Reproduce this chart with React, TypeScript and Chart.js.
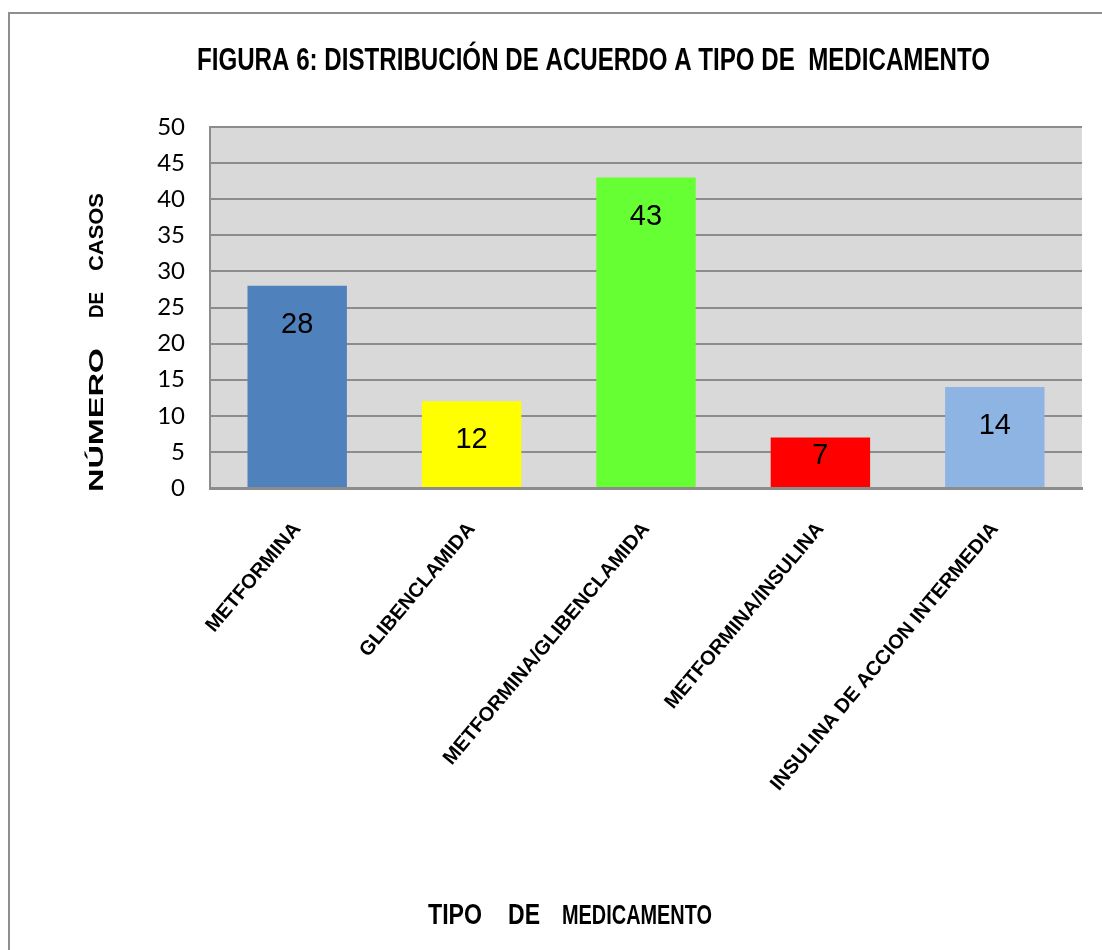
import React, { useEffect, useRef } from "react";
import { Chart, registerables } from "chart.js";

Chart.register(...registerables);

// ---- data ----
const categories = [
  "METFORMINA",
  "GLIBENCLAMIDA",
  "METFORMINA/GLIBENCLAMIDA",
  "METFORMINA/INSULINA",
  "INSULINA DE ACCION INTERMEDIA",
];
const casos = [28, 12, 43, 7, 14];
const barColors = ["#4f81bd", "#ffff00", "#66ff33", "#ff0000", "#8eb4e3"];
const yMin = 0;
const yMax = 50;
const yStep = 5;
const chartTitle = "FIGURA 6: DISTRIBUCIÓN DE ACUERDO A TIPO DE  MEDICAMENTO";
const yTitleWords = ["NÚMERO", "DE", "CASOS"];
const xTitleWords = ["TIPO", "DE", "MEDICAMENTO"];

// draw text so it spans a given width (horizontal scaling)
function drawFit(ctx: CanvasRenderingContext2D, text: string, x: number, y: number, w: number, font: string) {
  ctx.save();
  ctx.font = font;
  ctx.textAlign = "left";
  ctx.textBaseline = "alphabetic";
  const m = ctx.measureText(text).width || 1;
  ctx.translate(x, y);
  ctx.scale(w / m, 1);
  ctx.fillText(text, 0, 0);
  ctx.restore();
}

const decorPlugin = {
  id: "decor",
  beforeDraw(chart: any) {
    const { ctx, chartArea: a } = chart;
    ctx.save();
    ctx.fillStyle = "#ffffff";
    ctx.fillRect(0, 0, chart.width, chart.height);
    ctx.strokeStyle = "#8f8f8f";
    ctx.lineWidth = 2;
    ctx.strokeRect(9, 13, chart.width + 50, chart.height + 50);
    ctx.fillStyle = "#d9d9d9";
    ctx.fillRect(a.left, a.top, a.right - a.left, a.bottom - a.top);
    ctx.restore();
  },
  afterDatasetsDraw(chart: any) {
    const { ctx } = chart;
    const meta = chart.getDatasetMeta(0);
    ctx.save();
    ctx.fillStyle = "#000";
    ctx.font = "29px 'Liberation Sans Narrow', 'Liberation Sans', sans-serif";
    ctx.textAlign = "center";
    ctx.textBaseline = "alphabetic";
    meta.data.forEach((bar: any, i: number) => {
      const p = bar.getProps(["x", "y", "base"], true);
      const by = Math.min(p.y + 47, p.base - 23);
      ctx.fillText(String(casos[i]), p.x, by);
    });
    ctx.restore();
  },
  afterDraw(chart: any) {
    const { ctx } = chart;
    ctx.save();
    ctx.fillStyle = "#000";
    // main title
    drawFit(ctx, chartTitle, 197, 70, 793, "bold 31px 'Liberation Sans Narrow', 'Liberation Sans', sans-serif");
    // x axis title
    const fx = "bold 29px 'Liberation Sans', Arial, sans-serif";
    const fx2 = "bold 27px 'Liberation Sans', Arial, sans-serif";
    drawFit(ctx, xTitleWords[0], 428, 924, 54, fx);
    drawFit(ctx, xTitleWords[1], 508, 924, 32, fx);
    drawFit(ctx, xTitleWords[2], 562, 924, 150, fx2);
    // y axis title (rotated)
    ctx.translate(103, 0);
    ctx.rotate(-Math.PI / 2);
    const fy = "bold 21px 'Liberation Sans', Arial, sans-serif";
    drawFit(ctx, yTitleWords[0], -492, 0, 144, fy);
    drawFit(ctx, yTitleWords[1], -318, 0, 26, fy);
    drawFit(ctx, yTitleWords[2], -271, 0, 78, fy);
    ctx.restore();
  },
};

export default function App() {
  const ref = useRef<HTMLCanvasElement | null>(null);

  useEffect(() => {
    if (!ref.current) return;
    const chart = new Chart(ref.current, {
      type: "bar",
      data: {
        labels: categories,
        datasets: [
          {
            data: casos,
            backgroundColor: barColors,
            borderWidth: 0,
            categoryPercentage: 0.57,
            barPercentage: 1,
          },
        ],
      },
      options: {
        responsive: false,
        maintainAspectRatio: false,
        animation: false,
        layout: { padding: { left: 0, right: 20, top: 127, bottom: 0 } },
        plugins: {
          legend: { display: false },
          tooltip: { enabled: false },
          title: { display: false },
        },
        scales: {
          x: {
            afterFit: (s: any) => {
              s.height = 462;
            },
            grid: { display: false, drawTicks: false },
            border: { display: true, color: "#8c8c8c", width: 3 },
            ticks: {
              autoSkip: false,
              minRotation: 50,
              maxRotation: 50,
              padding: 30,
              color: "#000",
              font: { family: "'Liberation Sans Narrow', 'Liberation Sans', sans-serif", size: 20, weight: "bold" },
            },
          },
          y: {
            min: yMin,
            max: yMax,
            afterFit: (s: any) => {
              s.width = 210;
            },
            grid: { color: "#8c8c8c", lineWidth: 2, drawTicks: false },
            border: { display: true, color: "#8c8c8c", width: 2 },
            ticks: {
              stepSize: yStep,
              padding: 25,
              color: "#000",
              font: { family: "Lato, 'Liberation Sans', sans-serif", size: 24 },
            },
          },
        },
      },
      plugins: [decorPlugin],
    });
    return () => chart.destroy();
  }, []);

  return (
    <div style={{ position: "fixed", left: 0, top: 0, width: 1102, height: 950, overflow: "hidden", background: "#fff" }}>
      <canvas ref={ref} width={1102} height={950} style={{ width: 1102, height: 950, display: "block" }} />
    </div>
  );
}
